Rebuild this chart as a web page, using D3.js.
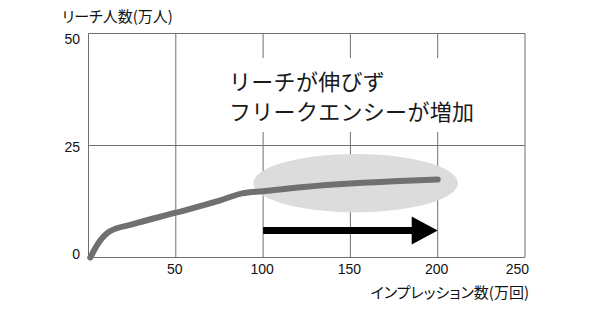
<!DOCTYPE html>
<html>
<head>
<meta charset="utf-8">
<script src="https://cdn.jsdelivr.net/npm/d3@7"></script>
<style>
  body { margin: 0; background: #fff; }
  svg { display: block; }
</style>
</head>
<body>
<svg id="chart" width="608" height="318"></svg>
<script>
// impressions (万回) vs reach (万人)
const impressions = [1, 6, 12, 25, 50, 75, 88, 100, 125, 150, 175, 200];
const reach = [0, 3.4, 5.8, 7.4, 10, 12.7, 14.3, 14.8, 15.8, 16.5, 17.0, 17.4];

const xTicks = [50, 100, 150, 200, 250];
const yTicks = [0, 25, 50];

const yTitle = 'リーチ人数(万人)';
const xTitle = 'インプレッション数(万回)';
const noteLines = ['リーチが伸びず', 'フリークエンシーが増加'];

// highlighted region + arrow, in data units
const highlight = { cx: 153, cy: 16.6, rx: 58.6, ry: 6.5 };
const arrow = { from: 100, to: 200, y: 6 };

const svg = d3.select('#chart');
const numFont = '"Liberation Sans", Arial, sans-serif';
const jpFont = '"Noto Sans CJK JP", "Noto Sans", sans-serif';

const x = d3.scaleLinear().domain([0, 250]).range([88.5, 525]);
const y = d3.scaleLinear().domain([0, 50]).range([257.5, 33.5]);
// y tick labels sit slightly off their gridlines in the original
const yLabel = d3.scaleLinear().domain([0, 50]).range([259, 44]);

const gridColor = '#6f6f6f';

// grid
svg.append('g')
    .selectAll('line')
    .data(xTicks)
    .enter().append('line')
    .attr('x1', d => x(d)).attr('x2', d => x(d))
    .attr('y1', y(0)).attr('y2', y(50))
    .attr('stroke', gridColor)
    .attr('stroke-width', 1);

svg.append('g')
    .selectAll('line')
    .data(yTicks)
    .enter().append('line')
    .attr('x1', x(0)).attr('x2', x(250))
    .attr('y1', d => y(d)).attr('y2', d => y(d))
    .attr('stroke', gridColor)
    .attr('stroke-width', 1);

// left border
svg.append('line')
    .attr('x1', x(0)).attr('x2', x(0))
    .attr('y1', y(0)).attr('y2', y(50))
    .attr('stroke', gridColor);

// white box behind the note
svg.append('rect')
    .attr('x', 215).attr('y', 58)
    .attr('width', 280).attr('height', 74)
    .attr('fill', '#fff');

noteLines.forEach((t, i) => {
    svg.append('text')
        .attr('x', 229)
        .attr('y', 90 + i * 30)
        .attr('font-family', jpFont)
        .attr('font-size', 22)
        .attr('letter-spacing', 0.3)
        .attr('fill', '#1a1a1a')
        .text(t);
});

// highlighted ellipse
svg.append('ellipse')
    .attr('cx', x(highlight.cx))
    .attr('cy', y(highlight.cy))
    .attr('rx', x(highlight.rx) - x(0))
    .attr('ry', y(0) - y(highlight.ry))
    .attr('fill', '#dcdcdc');

// reach curve
const line = d3.line()
    .x((d, i) => x(impressions[i]))
    .y(d => y(d))
    .curve(d3.curveMonotoneX);

svg.append('path')
    .datum(reach)
    .attr('d', line)
    .attr('fill', 'none')
    .attr('stroke', '#707070')
    .attr('stroke-width', 6)
    .attr('stroke-linecap', 'round')
    .attr('stroke-linejoin', 'round');

// arrow
const headLen = 26;
const headHalf = 14;
svg.append('line')
    .attr('x1', x(arrow.from))
    .attr('x2', x(arrow.to) - headLen + 2)
    .attr('y1', y(arrow.y)).attr('y2', y(arrow.y))
    .attr('stroke', '#000')
    .attr('stroke-width', 7);

svg.append('path')
    .attr('d', d3.line()([
        [x(arrow.to) - headLen, y(arrow.y) - headHalf],
        [x(arrow.to), y(arrow.y)],
        [x(arrow.to) - headLen, y(arrow.y) + headHalf]
    ]) + 'Z')
    .attr('fill', '#000');

// tick labels
svg.append('g')
    .selectAll('text')
    .data(yTicks)
    .enter().append('text')
    .attr('x', 80)
    .attr('y', d => yLabel(d))
    .attr('text-anchor', 'end')
    .attr('font-family', numFont)
    .attr('font-size', 14)
    .attr('fill', '#111')
    .text(d => d);

svg.append('g')
    .selectAll('text')
    .data(xTicks)
    .enter().append('text')
    .attr('x', d => d === 250 ? x(d) + 4 : x(d) - 1)
    .attr('y', 274)
    .attr('text-anchor', d => d === 250 ? 'end' : 'middle')
    .attr('font-family', numFont)
    .attr('font-size', 14)
    .attr('fill', '#111')
    .text(d => d);

// axis titles
svg.append('text')
    .attr('x', 62).attr('y', 22)
    .attr('font-family', jpFont)
    .attr('font-size', 15)
    .style('font-feature-settings', '"palt"')
    .attr('fill', '#111')
    .text(yTitle);

svg.append('text')
    .attr('x', 529).attr('y', 298)
    .attr('text-anchor', 'end')
    .attr('font-family', jpFont)
    .attr('font-size', 15)
    .style('font-feature-settings', '"palt"')
    .attr('fill', '#111')
    .text(xTitle);
</script>
</body>
</html>
